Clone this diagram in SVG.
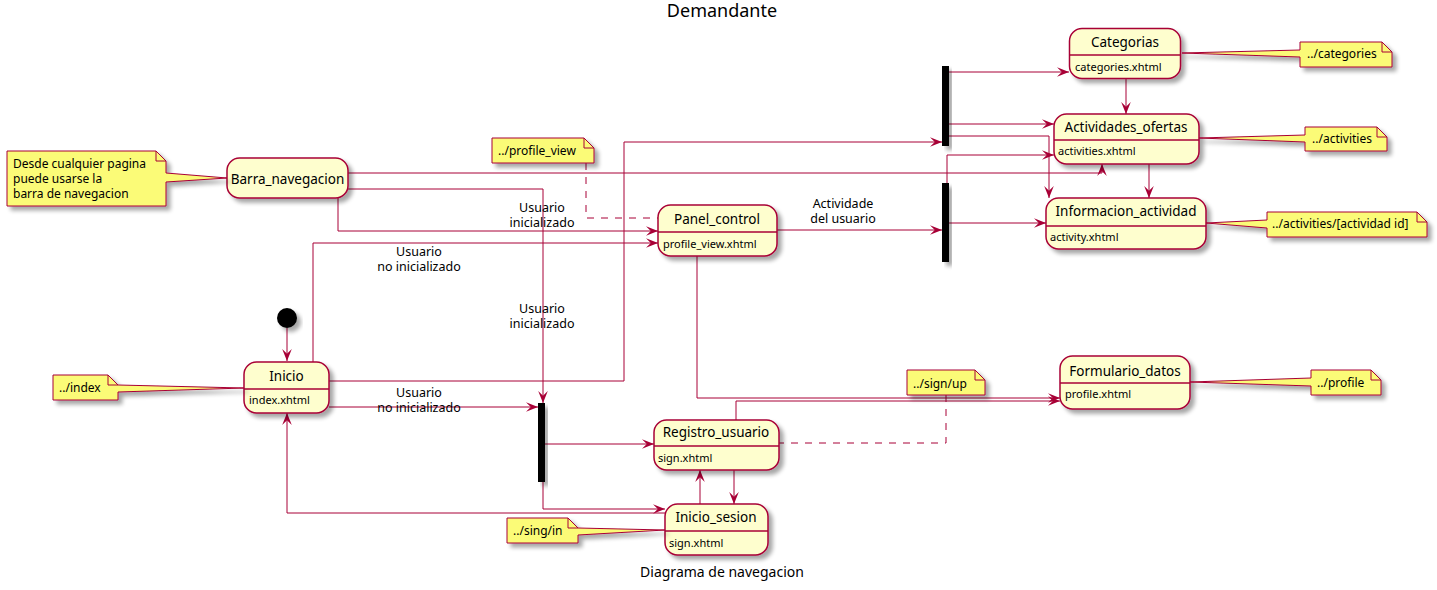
<svg xmlns="http://www.w3.org/2000/svg" width="1437" height="590" viewBox="0 0 1437 590">
<defs>
<style>
.st rect{fill:#FEFECE;stroke:#A80036;stroke-width:1.5}
.st line{stroke:#A80036;stroke-width:1.5}
.nm{font-family:"Noto Sans",sans-serif;font-size:13.5px;text-anchor:middle;fill:#000}
.sb{font-family:"Noto Sans",sans-serif;font-size:11px;fill:#000}
.nt path.b{fill:#FBFB77;stroke:#A80036;stroke-width:1}
.nt path.f{fill:none;stroke:#A80036;stroke-width:1}
.nt text{font-family:"Noto Sans",sans-serif;font-size:12px;fill:#000}
.e path{fill:none;stroke:#A80036;stroke-width:1;marker-end:url(#ar)}
.e path.d{stroke-dasharray:7,7;marker-end:none}
.lb{font-family:"Noto Sans",sans-serif;font-size:12.5px;text-anchor:middle;fill:#000}
.bar{fill:#000}
</style>
<filter id="sh" x="-20%" y="-20%" width="150%" height="160%">
<feGaussianBlur in="SourceAlpha" stdDeviation="2"/>
<feOffset dx="4" dy="4"/>
<feComponentTransfer><feFuncA type="linear" slope="0.35"/></feComponentTransfer>
<feMerge><feMergeNode/><feMergeNode in="SourceGraphic"/></feMerge>
</filter>
<marker id="ar" markerUnits="userSpaceOnUse" markerWidth="12" markerHeight="12" viewBox="0 0 10 10" refX="10" refY="5" orient="auto"><path d="M0,1 L10,5 L0,9 L4,5 Z" fill="#A80036"/></marker>
</defs>
<rect width="1437" height="590" fill="#fff"/>
<text x="722" y="17" font-family="Noto Sans, sans-serif" font-size="18" text-anchor="middle">Demandante</text>
<text x="722" y="577" font-family="Noto Sans, sans-serif" font-size="14" text-anchor="middle">Diagrama de navegacion</text>

<g id="connectors" class="e">
<path d="M287,328 V361"/>
<path d="M329,381 H624 V142 H942"/>
<path d="M329,407 H538"/>
<path d="M313,362 V243 H658"/>
<path d="M338,198 V231 H658"/>
<path d="M348,189 H543 V403"/>
<path d="M348,173 H1102 V164"/>
<path d="M777,230 H942"/>
<path d="M697,256 V398 H1060"/>
<path d="M736,420 V401 H1060"/>
<path d="M949,72 H1069"/>
<path d="M949,124 H1054"/>
<path d="M949,136 H1049 V198"/>
<path d="M1126,79 V114"/>
<path d="M1149,164 V198"/>
<path d="M947,183 V155 H1054"/>
<path d="M949,223 H1046"/>
<path d="M545,444 H654"/>
<path d="M543,482 V509 H665"/>
<path d="M665,513 H287 V413"/>
<path d="M700,504 V470"/>
<path d="M734,470 V504"/>
<path class="d" d="M586,163 V218 H658"/>
<path class="d" d="M946,395 V443 H779"/>
<text class="lb" x="419" y="255.5">Usuario<tspan x="419" dy="15.5">no inicializado</tspan></text>
<text class="lb" x="542" y="211.5">Usuario<tspan x="542" dy="15.5">inicializado</tspan></text>
<text class="lb" x="542" y="312.5">Usuario<tspan x="542" dy="15.5">inicializado</tspan></text>
<text class="lb" x="419" y="396.5">Usuario<tspan x="419" dy="15.5">no inicializado</tspan></text>
<text class="lb" x="843" y="207.5">Actividade<tspan x="843" dy="15.5">del usuario</tspan></text>
</g>

<g id="initial"><circle cx="287" cy="318" r="10" fill="#000" filter="url(#sh)"/></g>
<g id="bar1"><rect class="bar" x="942" y="66" width="7" height="80" filter="url(#sh)"/></g>
<g id="bar2"><rect class="bar" x="942" y="183" width="7" height="79" filter="url(#sh)"/></g>
<g id="bar3"><rect class="bar" x="538" y="403" width="7" height="79" filter="url(#sh)"/></g>

<g id="Categorias" class="st"><rect x="1069.5" y="28.5" width="111" height="50" rx="12.5" filter="url(#sh)"/><line x1="1069.5" y1="55" x2="1180.5" y2="55"/><text class="nm" x="1125" y="47">Categorias</text><text class="sb" x="1075" y="71">categories.xhtml</text></g>
<g id="Actividades_ofertas" class="st"><rect x="1054" y="114" width="145" height="50" rx="12.5" filter="url(#sh)"/><line x1="1054" y1="140" x2="1199" y2="140"/><text class="nm" x="1126" y="132">Actividades_ofertas</text><text class="sb" x="1058" y="155">activities.xhtml</text></g>
<g id="Informacion_actividad" class="st"><rect x="1046" y="198" width="160" height="51" rx="12.5" filter="url(#sh)"/><line x1="1046" y1="226" x2="1206" y2="226"/><text class="nm" x="1126" y="216">Informacion_actividad</text><text class="sb" x="1050" y="241">activity.xhtml</text></g>
<g id="Formulario_datos" class="st"><rect x="1060" y="356" width="130" height="53" rx="12.5" filter="url(#sh)"/><line x1="1060" y1="383" x2="1190" y2="383"/><text class="nm" x="1125" y="376">Formulario_datos</text><text class="sb" x="1065" y="398">profile.xhtml</text></g>
<g id="Barra_navegacion" class="st"><rect x="227" y="158" width="121" height="40" rx="12.5" filter="url(#sh)"/><text class="nm" x="287.5" y="184">Barra_navegacion</text></g>
<g id="Panel_control" class="st"><rect x="658" y="205" width="119" height="51" rx="12.5" filter="url(#sh)"/><line x1="658" y1="232" x2="777" y2="232"/><text class="nm" x="717" y="224">Panel_control</text><text class="sb" x="663" y="248">profile_view.xhtml</text></g>
<g id="Inicio" class="st"><rect x="244" y="362" width="85" height="51" rx="12.5" filter="url(#sh)"/><line x1="244" y1="389" x2="329" y2="389"/><text class="nm" x="286.5" y="381">Inicio</text><text class="sb" x="249" y="404">index.xhtml</text></g>
<g id="Registro_usuario" class="st"><rect x="654" y="420" width="125" height="50" rx="12.5" filter="url(#sh)"/><line x1="654" y1="446" x2="779" y2="446"/><text class="nm" x="716" y="437">Registro_usuario</text><text class="sb" x="658" y="462">sign.xhtml</text></g>
<g id="Inicio_sesion" class="st"><rect x="665" y="504" width="103" height="51" rx="12.5" filter="url(#sh)"/><line x1="665" y1="531" x2="768" y2="531"/><text class="nm" x="716" y="522">Inicio_sesion</text><text class="sb" x="669" y="547">sign.xhtml</text></g>

<g id="note_barra" class="nt"><path class="b" filter="url(#sh)" d="M7,151 H156 L166,161 V173 L227,178 L166,182 V206 H7 Z"/><path class="f" d="M156,151 V161 H166"/><text x="13" y="168">Desde cualquier pagina<tspan x="13" dy="15">puede usarse la</tspan><tspan x="13" dy="15">barra de navegacion</tspan></text></g>
<g id="note_profile_view" class="nt"><path class="b" filter="url(#sh)" d="M492,138 H584 L594,148 V163 H492 Z"/><path class="f" d="M584,138 V148 H594"/><text x="498" y="155">../profile_view</text></g>
<g id="note_categories" class="nt"><path class="b" filter="url(#sh)" d="M1300,42 H1382 L1392,52 V67 H1300 V57 L1182,53 L1300,50 Z"/><path class="f" d="M1382,42 V52 H1392"/><text x="1307" y="58">../categories</text></g>
<g id="note_activities" class="nt"><path class="b" filter="url(#sh)" d="M1305,127 H1377 L1387,137 V151 H1305 V142 L1199,138 L1305,135 Z"/><path class="f" d="M1377,127 V137 H1387"/><text x="1312" y="143">../activities</text></g>
<g id="note_actividad" class="nt"><path class="b" filter="url(#sh)" d="M1267,212 H1417 L1427,222 V237 H1267 V228 L1206,223 L1267,220 Z"/><path class="f" d="M1417,212 V222 H1427"/><text x="1272" y="228">../activities/[actividad id]</text></g>
<g id="note_profile" class="nt"><path class="b" filter="url(#sh)" d="M1311,370 H1371 L1381,380 V395 H1311 V386 L1190,382 L1311,378 Z"/><path class="f" d="M1371,370 V380 H1381"/><text x="1317" y="387">../profile</text></g>
<g id="note_index" class="nt"><path class="b" filter="url(#sh)" d="M53,375 H108 L118,385 L244,388 L118,392 V400 H53 Z"/><path class="f" d="M108,375 V385 H118"/><text x="59" y="392">../index</text></g>
<g id="note_signup" class="nt"><path class="b" filter="url(#sh)" d="M907,370 H975 L985,380 V395 H907 Z"/><path class="f" d="M975,370 V380 H985"/><text x="913" y="388">../sign/up</text></g>
<g id="note_singin" class="nt"><path class="b" filter="url(#sh)" d="M507,518 H568 L578,528 L665,530 L578,535 V543 H507 Z"/><path class="f" d="M568,518 V528 H578"/><text x="513" y="535">../sing/in</text></g>
</svg>
